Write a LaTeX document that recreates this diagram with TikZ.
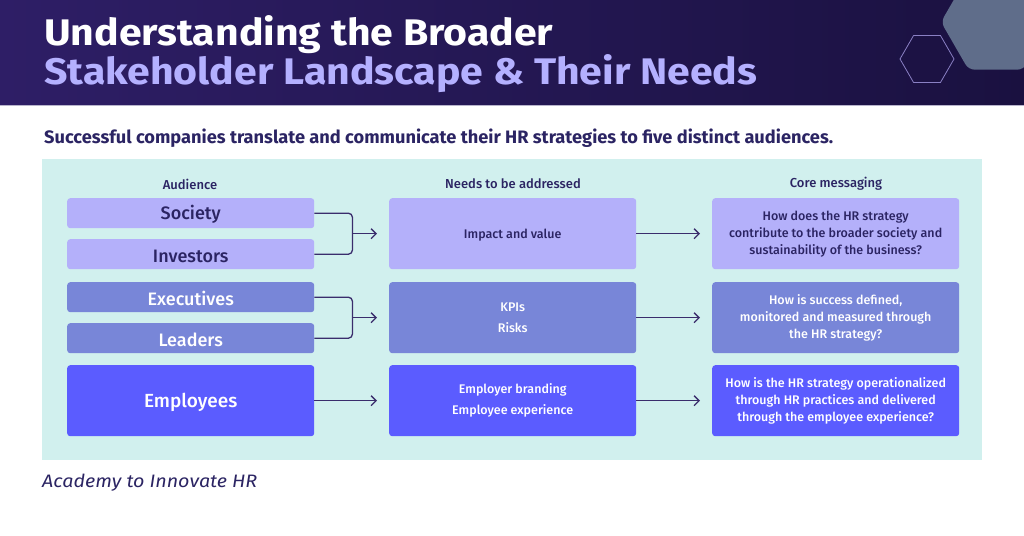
\documentclass[tikz,border=0pt]{standalone}
\usepackage{fontspec}
\usepackage{graphicx}
\setmainfont{Fira Sans}
\newfontfamily\fmed{Fira Sans Medium}
\usetikzlibrary{arrows.meta,calc}
\definecolor{hdrL}{HTML}{2E1E66}
\definecolor{hdrR}{HTML}{1A1140}
\definecolor{lav}{HTML}{B4B0FF}
\definecolor{ink}{HTML}{2B2463}
\definecolor{panel}{HTML}{D1F0EE}
\definecolor{rowA}{HTML}{B4B0FA}
\definecolor{rowB}{HTML}{7886D8}
\definecolor{rowC}{HTML}{5B5CFF}
\definecolor{hexfill}{HTML}{5F6D8A}
\definecolor{hexline}{HTML}{8A80C4}
\definecolor{arrowc}{HTML}{3A2D6C}
\definecolor{edge}{HTML}{B8B4CC}
\newcommand\fitw[2]{\resizebox{#1}{\height}{#2}}
\tikzset{
  box/.style={rounded corners=3pt, inner sep=0pt, minimum width=247pt, align=center, anchor=north west},
  audbox/.style={box, execute at begin node={\rule{0pt}{17pt}}},
  cellbox/.style={box, minimum height=71pt, font=\fmed\fontsize{12.5}{17}\selectfont, execute at begin node={\rule{0pt}{13pt}}},
  audA/.style={audbox, fill=rowA, text=ink, minimum height=30pt, font=\fmed\fontsize{18}{22}\selectfont},
  audB/.style={audbox, fill=rowB, text=white, minimum height=30pt, font=\fmed\fontsize{18}{22}\selectfont},
  audC/.style={audbox, fill=rowC, text=white, minimum height=71pt, font=\fmed\fontsize{19}{22}\selectfont},
  cellA/.style={cellbox, fill=rowA, text=ink},
  cellB/.style={cellbox, fill=rowB, text=white},
  cellC/.style={cellbox, fill=rowC, text=white},
  colhead/.style={text=ink, font=\fmed\fontsize{13}{15}\selectfont, inner sep=0pt},
  arr/.style={draw=arrowc, line width=1.3pt, -{Straight Barb[length=5pt,width=10pt,line width=1.3pt]}},
  brk/.style={draw=arrowc, line width=1.3pt, rounded corners=4pt},
}
\begin{document}
\begin{tikzpicture}[x=1pt,y=-1pt]
\useasboundingbox (0,0) rectangle (1024,535);
\fill[white] (0,0) rectangle (1024,535);
% header
\shade[left color=hdrL, right color=hdrR] (0,0) rectangle (1024,105);
\draw[edge, line width=0.8pt] (0,105) -- (1024,105);
\begin{scope}
  \clip (0,0) rectangle (1024,104.5);
  \fill[hexfill, rounded corners=6pt] (996,22) ++(180:55) -- ++(-60:55) -- ++(0:55) -- ++(60:55) -- ++(120:55) -- ++(180:55) -- cycle;
\end{scope}
\draw[hexline, line width=0.8pt] (900,59) -- (913.5,35.6) -- (940.5,35.6) -- (954,59) -- (940.5,82.4) -- (913.5,82.4) -- cycle;
\node[anchor=base west, inner sep=0pt, text=white, font=\bfseries\fontsize{37}{37}\selectfont] (t1) at (44,46) {\fitw{509pt}{Understanding the Broader}};
\node[anchor=base west, inner sep=0pt, text=lav, font=\bfseries\fontsize{37}{37}\selectfont] (t2) at (44,84) {\fitw{713pt}{Stakeholder Landscape \& Their Needs}};
% subtitle
\node[anchor=base west, inner sep=0pt, text=ink, font=\bfseries\fontsize{18}{20}\selectfont] (sub) at (44,143) {\fitw{789pt}{Successful companies translate and communicate their HR strategies to five distinct audiences.}};
% panel
\fill[panel] (42,159) rectangle (982,460);
% column heads
\node[colhead] (h1) at (190,184) {Audience};
\node[colhead] (h2) at (513,184) {Needs to be addressed};
\node[colhead] (h3) at (836,184) {Core messaging};
% audience boxes
\node[audA] (soc) at (67,198) {Society};
\node[audA] (inv) at (67,239) {Investors};
\node[audB] (exe) at (67,282) {Executives};
\node[audB] (lea) at (67,323) {Leaders};
\node[audC] (emp) at (67,365) {Employees};
% needs boxes
\node[cellA] (n1) at (389,198) {Impact and value};
\node[cellB] (n2) at (389,282) {KPIs\\[4pt]Risks};
\node[cellC] (n3) at (389,365) {Employer branding\\[4pt]Employee experience};
% core boxes
\node[cellA] (c1) at (712,198) {How does the HR strategy\\contribute to the broader society and\\sustainability of the business?};
\node[cellB] (c2) at (712,282) {How is success defined,\\monitored and measured through\\the HR strategy?};
\node[cellC] (c3) at (712,365) {How is the HR strategy operationalized\\through HR practices and delivered\\through the employee experience?};
% connectors
\draw[brk] (soc.east) -- ++(38,0) |- (inv.east);
\coordinate (j1) at ($(soc.east)!0.5!(inv.east)+(38,0)$);
\draw[arr, shorten >=12pt] (j1) -- (j1 -| n1.west);
\draw[brk] (exe.east) -- ++(38,0) |- (lea.east);
\coordinate (j2) at ($(exe.east)!0.5!(lea.east)+(38,0)$);
\draw[arr, shorten >=12pt] (j2) -- (j2 -| n2.west);
\draw[arr, shorten >=12pt] (emp.east) -- (n3.west);
\draw[arr, shorten >=12pt] (n1.east) -- (c1.west);
\draw[arr, shorten >=12pt] (n2.east) -- (c2.west);
\draw[arr, shorten >=12pt] (n3.east) -- (c3.west);
% footer
\node[anchor=base west, inner sep=0pt, text=ink, font=\itshape\fontsize{18}{20}\selectfont] (foot) at (42,487) {\fitw{215pt}{Academy to Innovate HR}};
\end{tikzpicture}
\end{document}
